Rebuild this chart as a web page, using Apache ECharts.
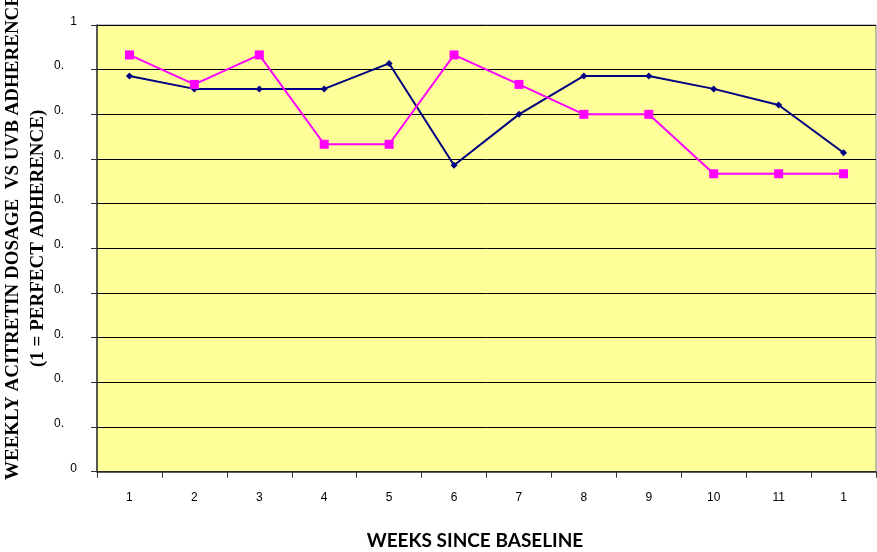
<!DOCTYPE html>
<html>
<head>
<meta charset="utf-8">
<script src="https://cdn.jsdelivr.net/npm/echarts@6/dist/echarts.min.js"></script>
<style>
html,body{margin:0;padding:0;background:#fff;}
#chart{width:877px;height:552px;}
</style>
</head>
<body>
<div id="chart"></div>
<script>
var weeks = [1,2,3,4,5,6,7,8,9,10,11,12];
var xTickLabels = ['1','2','3','4','5','6','7','8','9','10','11','1'];
var acitretin = [0.886,0.857,0.857,0.857,0.914,0.686,0.800,0.886,0.886,0.857,0.821,0.714];
var uvb = [0.933,0.867,0.933,0.733,0.733,0.933,0.867,0.800,0.800,0.667,0.667,0.667];
var xTitle = 'WEEKS SINCE BASELINE';
var yTitle1 = 'WEEKLY ACITRETIN DOSAGE  VS UVB ADHERENCE';
var yTitle2 = '(1 = PERFECT ADHERENCE)';

var labelFont = '"Liberation Sans", Arial, sans-serif';
var chart = echarts.init(document.getElementById('chart'), null, {renderer:'canvas'});
chart.setOption({
  animation:false,
  backgroundColor:'#ffffff',
  grid:{left:97, top:25, width:779, height:446.7, show:true, backgroundColor:'#FFFF99', borderColor:'#808080', borderWidth:1},
  xAxis:{
    type:'category', data:weeks, boundaryGap:true,
    axisLine:{lineStyle:{color:'#333333', width:1.5}},
    axisTick:{show:true, length:6, alignWithLabel:false, lineStyle:{color:'#333333'}},
    axisLabel:{margin:20, color:'#000', fontFamily:labelFont, fontSize:12,
      formatter:function(v,i){return xTickLabels[i];}},
    splitLine:{show:false}
  },
  yAxis:{
    type:'value', min:0, max:1, interval:0.1,
    axisLine:{show:true, lineStyle:{color:'#333333', width:1.5}},
    axisTick:{show:true, length:6, lineStyle:{color:'#333333'}},
    splitLine:{show:true, lineStyle:{color:'#000000', width:1}},
    axisLabel:{margin:20, color:'#000', fontFamily:labelFont, fontSize:12, padding:[0,0,7,0],
      formatter:function(v){
        var r = Math.round(v*10)/10;
        if (r===0) return '0';
        if (r===1) return '1';
        return '{t|0.}';
      },
      rich:{t:{padding:[0,13,0,0], fontFamily:labelFont, fontSize:12, color:'#000'}}
    }
  },
  series:[
    {type:'line', data:acitretin, symbol:'diamond', symbolSize:7, showSymbol:true,
     lineStyle:{color:'#000080', width:2}, itemStyle:{color:'#000080'}},
    {type:'line', data:uvb, symbol:'rect', symbolSize:9, showSymbol:true,
     lineStyle:{color:'#FF00FF', width:2}, itemStyle:{color:'#FF00FF'}}
  ],
  graphic:[
    {type:'text', x:475, y:541, style:{text:xTitle, font:'bold 19px Lato, "Open Sans", sans-serif', fill:'#000', textAlign:'center', textVerticalAlign:'middle'}},
    {type:'text', x:13, y:480, rotation:Math.PI/2, style:{text:yTitle1, font:'bold 19px "Liberation Serif", "Times New Roman", serif', fill:'#000', textAlign:'left', textVerticalAlign:'middle'}},
    {type:'text', x:38, y:367, rotation:Math.PI/2, style:{text:yTitle2, font:'bold 19px "Liberation Serif", "Times New Roman", serif', fill:'#000', textAlign:'left', textVerticalAlign:'middle'}}
  ]
});
</script>
</body>
</html>
